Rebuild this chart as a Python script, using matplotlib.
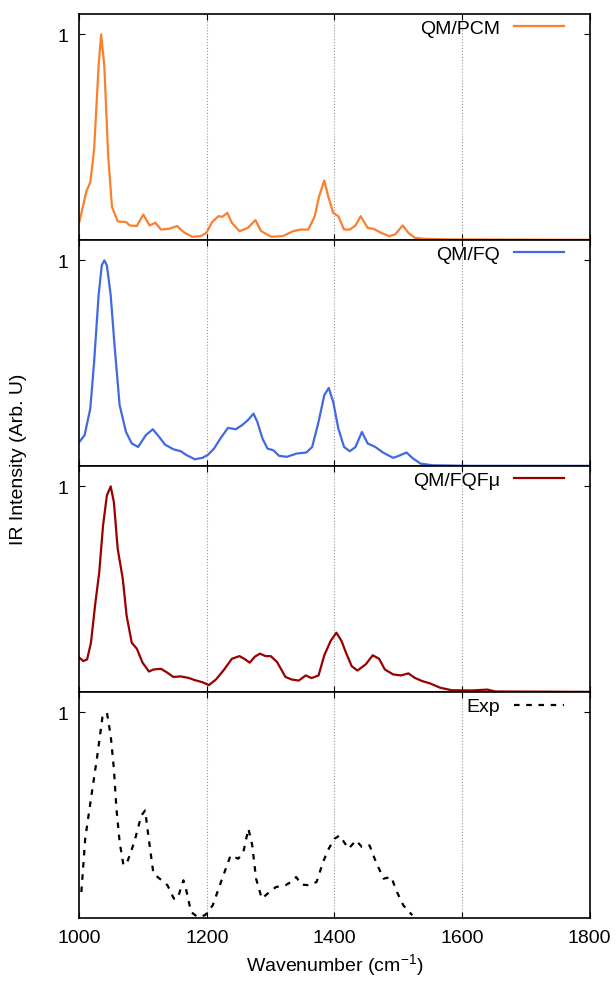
import numpy as np
import matplotlib
matplotlib.use('Agg')
import matplotlib.pyplot as plt

plt.rcParams['font.family'] = ['Liberation Sans', 'DejaVu Sans']

# QM/PCM
pcm_x = [1000, 1011, 1017, 1023, 1030, 1034, 1039, 1045, 1051, 1060, 1073, 1079, 1090, 1100,
         1110, 1119, 1128, 1141, 1153, 1165, 1177, 1190, 1199, 1208, 1218, 1224, 1232, 1239,
         1251, 1264, 1276, 1285, 1301, 1319, 1335, 1347, 1359, 1369, 1376, 1384, 1390, 1398,
         1406, 1415, 1424, 1433, 1441, 1452, 1461, 1473, 1486, 1495, 1507, 1516, 1526, 1541,
         1584, 1800]
pcm_y = [0.09, 0.237, 0.28, 0.44, 0.846, 1.0, 0.846, 0.41, 0.16, 0.09, 0.086, 0.07, 0.067, 0.123,
         0.07, 0.083, 0.05, 0.054, 0.067, 0.034, 0.015, 0.018, 0.034, 0.086, 0.115, 0.112, 0.131,
         0.083, 0.042, 0.058, 0.096, 0.042, 0.015, 0.018, 0.042, 0.05, 0.05, 0.115, 0.213, 0.289,
         0.213, 0.131, 0.115, 0.05, 0.05, 0.07, 0.115, 0.058, 0.054, 0.034, 0.018, 0.026, 0.07,
         0.034, 0.01, 0.005, 0.002, 0.0]

# QM/FQ
fq_x = [1000, 1008, 1017, 1023, 1030, 1035, 1039, 1043, 1049, 1055, 1063, 1073, 1082, 1092,
        1104, 1115, 1125, 1134, 1147, 1159, 1168, 1181, 1193, 1202, 1211, 1221, 1233, 1245,
        1255, 1264, 1273, 1279, 1287, 1295, 1304, 1313, 1325, 1341, 1356, 1365, 1375, 1384,
        1391, 1398, 1406, 1415, 1424, 1433, 1443, 1452, 1464, 1476, 1492, 1501, 1513, 1523,
        1535, 1553, 1615, 1800]
fq_y = [0.117, 0.149, 0.279, 0.506, 0.83, 0.976, 1.0, 0.976, 0.83, 0.587, 0.295, 0.165, 0.109,
        0.092, 0.149, 0.178, 0.141, 0.104, 0.081, 0.071, 0.052, 0.032, 0.039, 0.055, 0.084,
        0.133, 0.185, 0.178, 0.198, 0.222, 0.254, 0.214, 0.133, 0.084, 0.076, 0.049, 0.044,
        0.06, 0.065, 0.092, 0.214, 0.344, 0.379, 0.311, 0.182, 0.092, 0.071, 0.092, 0.165,
        0.109, 0.092, 0.065, 0.039, 0.049, 0.065, 0.036, 0.011, 0.003, 0.0, 0.0]

# QM/FQFmu
fqfmu_x = [1000, 1006, 1012, 1018, 1025, 1031, 1037, 1043, 1049, 1054, 1060, 1068, 1074, 1082,
           1090, 1099, 1109, 1116, 1128, 1138, 1147, 1159, 1171, 1181, 1193, 1203, 1214, 1227,
           1239, 1251, 1260, 1267, 1275, 1283, 1292, 1300, 1310, 1323, 1333, 1344, 1355, 1364,
           1375, 1384, 1394, 1403, 1411, 1418, 1427, 1436, 1449, 1460, 1470, 1479, 1492, 1504,
           1516, 1526, 1538, 1550, 1566, 1584, 1615, 1640, 1652, 1800]
fqfmu_y = [0.166, 0.15, 0.158, 0.239, 0.435, 0.581, 0.81, 0.956, 1.0, 0.923, 0.695, 0.549, 0.37,
           0.239, 0.21, 0.142, 0.099, 0.109, 0.112, 0.093, 0.073, 0.075, 0.068, 0.057, 0.047,
           0.033, 0.06, 0.109, 0.161, 0.174, 0.158, 0.142, 0.171, 0.186, 0.174, 0.174, 0.145,
           0.073, 0.06, 0.055, 0.08, 0.067, 0.08, 0.178, 0.248, 0.288, 0.248, 0.191, 0.125,
           0.104, 0.134, 0.178, 0.161, 0.109, 0.085, 0.08, 0.09, 0.068, 0.052, 0.041, 0.02,
           0.008, 0.007, 0.011, 0.002, 0.0]

# Experiment
exp_x = [1003, 1009, 1018, 1028, 1036, 1043, 1049, 1054, 1058, 1063, 1069, 1075, 1086, 1097,
         1103, 1108, 1116, 1129, 1138, 1148, 1154, 1163, 1167, 1175, 1185, 1197, 1209, 1222,
         1237, 1249, 1257, 1265, 1271, 1277, 1286, 1295, 1308, 1323, 1332, 1340, 1348, 1360,
         1372, 1382, 1391, 1400, 1408, 1422, 1434, 1443, 1455, 1465, 1477, 1489, 1498, 1508,
         1522]
exp_y = [0.126, 0.385, 0.579, 0.79, 0.976, 1.0, 0.887, 0.725, 0.531, 0.369, 0.256, 0.272, 0.369,
         0.498, 0.523, 0.401, 0.215, 0.183, 0.159, 0.094, 0.094, 0.183, 0.142, 0.029, 0.005,
         0.013, 0.061, 0.175, 0.304, 0.288, 0.32, 0.434, 0.353, 0.191, 0.094, 0.118, 0.15,
         0.159, 0.175, 0.199, 0.162, 0.159, 0.175, 0.272, 0.337, 0.385, 0.401, 0.337, 0.377,
         0.345, 0.353, 0.272, 0.191, 0.199, 0.126, 0.061, 0.013]

series = [
    (pcm_x, pcm_y, 'QM/PCM', '#fb7f2c', '-'),
    (fq_x, fq_y, 'QM/FQ', '#4169e1', '-'),
    (fqfmu_x, fqfmu_y, 'QM/FQF\u03bc', '#990000', '-'),
    (exp_x, exp_y, 'Exp', 'black', (0, (2.5, 3))),
]

fig, axes = plt.subplots(4, 1, figsize=(6.16, 9.87), dpi=100, sharex=True)
fig.subplots_adjust(left=0.129, right=0.957, top=0.985, bottom=0.069, hspace=0)

for ax, (x, y, label, color, ls) in zip(axes, series):
    ax.plot(x, y, color=color, linestyle=ls, linewidth=1.6, label=label)
    ax.set_xlim(1000, 1800)
    ax.set_ylim(0, 1.1)
    ax.set_yticks([1])
    ax.set_yticklabels(['1'])
    ax.set_xticks([1000, 1200, 1400, 1600, 1800])
    for gx in [1200, 1400, 1600]:
        ax.axvline(gx, color='#999999', linestyle=':', linewidth=0.8, zorder=0)
    ax.tick_params(axis='both', direction='in', labelsize=14, length=4,
                   top=True, right=True, pad=8)
    for sp in ax.spines.values():
        sp.set_linewidth(1.2)
    ax.legend(loc='upper right', bbox_to_anchor=(0.962, 1.0), frameon=False,
              markerfirst=False, fontsize=14, handlelength=2.6, handletextpad=0.7,
              borderaxespad=0.3, borderpad=0.0)

axes[-1].set_xlabel('Wavenumber (cm$^{\\mathregular{-1}}$)', fontsize=14)
fig.text(0.03, 0.535, 'IR Intensity (Arb. U)', rotation=90, fontsize=14,
         ha='center', va='center')

fig.savefig('out.png', dpi=100)
